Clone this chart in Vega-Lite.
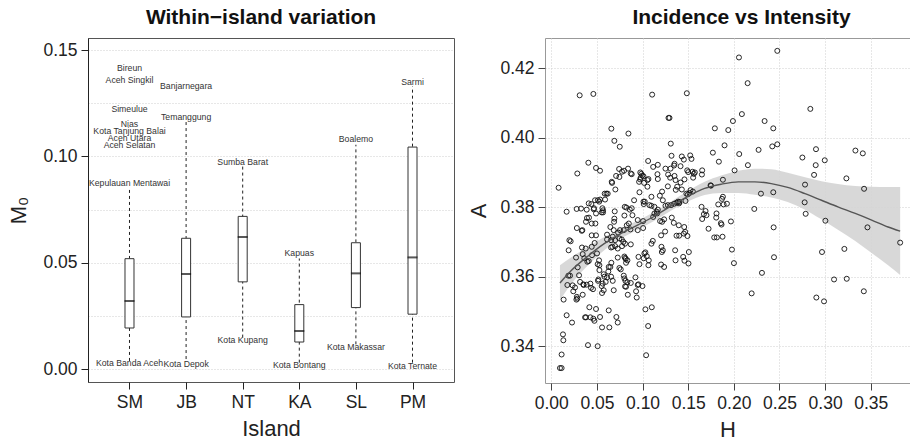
{
  "$schema": "https://vega.github.io/schema/vega-lite/v6.json",
  "padding": {"left": 7, "top": 6, "right": 0, "bottom": 0},
  "spacing": 12,
  "config": {
    "font": "Liberation Sans",
    "title": {"fontSize": 21, "fontWeight": "bold", "color": "#111", "anchor": "middle", "offset": 10},
    "axis": {"labelFontSize": 17.5, "titleFontSize": 22, "titleFontWeight": "normal", "labelColor": "#222", "titleColor": "#222", "tickSize": 7, "tickColor": "#444", "labelPadding": 4, "gridDash": [1, 2], "gridColor": "#cfcfcf"}
  },
  "datasets": {
    "boxes": [
      {"Island": "SM", "lo": 0.0038, "q1": 0.0193, "med": 0.032, "q3": 0.0519, "hi": 0.0849},
      {"Island": "JB", "lo": 0.0047, "q1": 0.0245, "med": 0.0447, "q3": 0.0615, "hi": 0.1162},
      {"Island": "NT", "lo": 0.0148, "q1": 0.041, "med": 0.0621, "q3": 0.0718, "hi": 0.0953},
      {"Island": "KA", "lo": 0.003, "q1": 0.0127, "med": 0.0179, "q3": 0.0303, "hi": 0.052},
      {"Island": "SL", "lo": 0.0116, "q1": 0.0289, "med": 0.045, "q3": 0.0594, "hi": 0.1055},
      {"Island": "PM", "lo": 0.003, "q1": 0.0258, "med": 0.0525, "q3": 0.1044, "hi": 0.133}
    ],
    "labels": [
      {"Island": "SM", "name": "Bireun", "value": 0.1415},
      {"Island": "SM", "name": "Aceh Singkil", "value": 0.1358},
      {"Island": "SM", "name": "Simeulue", "value": 0.1223},
      {"Island": "SM", "name": "Nias", "value": 0.1152},
      {"Island": "SM", "name": "Kota Tanjung Balai", "value": 0.112},
      {"Island": "SM", "name": "Aceh Utara", "value": 0.1086},
      {"Island": "SM", "name": "Aceh Selatan", "value": 0.1052},
      {"Island": "SM", "name": "Kepulauan Mentawai", "value": 0.0877},
      {"Island": "SM", "name": "Kota Banda Aceh", "value": 0.003},
      {"Island": "JB", "name": "Banjarnegara", "value": 0.133},
      {"Island": "JB", "name": "Temanggung", "value": 0.1184},
      {"Island": "JB", "name": "Kota Depok", "value": 0.0025},
      {"Island": "NT", "name": "Sumba Barat", "value": 0.0972},
      {"Island": "NT", "name": "Kota Kupang", "value": 0.0137},
      {"Island": "KA", "name": "Kapuas", "value": 0.0547},
      {"Island": "KA", "name": "Kota Bontang", "value": 0.0019},
      {"Island": "SL", "name": "Boalemo", "value": 0.108},
      {"Island": "SL", "name": "Kota Makassar", "value": 0.0104},
      {"Island": "PM", "name": "Sarmi", "value": 0.1349},
      {"Island": "PM", "name": "Kota Ternate", "value": 0.0014}
    ],
    "loess": [
      {"H": 0.0095, "fit": 0.3582, "lo": 0.3532, "hi": 0.3633},
      {"H": 0.0216, "fit": 0.3617, "lo": 0.3578, "hi": 0.3655},
      {"H": 0.04, "fit": 0.3659, "lo": 0.3632, "hi": 0.3686},
      {"H": 0.058, "fit": 0.3695, "lo": 0.3676, "hi": 0.3714},
      {"H": 0.076, "fit": 0.3724, "lo": 0.3709, "hi": 0.3739},
      {"H": 0.095, "fit": 0.3749, "lo": 0.3736, "hi": 0.3762},
      {"H": 0.113, "fit": 0.3774, "lo": 0.3761, "hi": 0.3787},
      {"H": 0.131, "fit": 0.3803, "lo": 0.379, "hi": 0.3816},
      {"H": 0.15, "fit": 0.3832, "lo": 0.3817, "hi": 0.3847},
      {"H": 0.168, "fit": 0.3854, "lo": 0.3835, "hi": 0.3873},
      {"H": 0.186, "fit": 0.3866, "lo": 0.3841, "hi": 0.3891},
      {"H": 0.205, "fit": 0.3873, "lo": 0.3841, "hi": 0.3905},
      {"H": 0.223, "fit": 0.3873, "lo": 0.3836, "hi": 0.3911},
      {"H": 0.241, "fit": 0.3868, "lo": 0.3828, "hi": 0.3909},
      {"H": 0.259, "fit": 0.3857, "lo": 0.3815, "hi": 0.3899},
      {"H": 0.278, "fit": 0.3839, "lo": 0.3793, "hi": 0.3886},
      {"H": 0.296, "fit": 0.382, "lo": 0.3765, "hi": 0.3875},
      {"H": 0.314, "fit": 0.3801, "lo": 0.3735, "hi": 0.3867},
      {"H": 0.333, "fit": 0.3782, "lo": 0.3703, "hi": 0.3861},
      {"H": 0.351, "fit": 0.3763, "lo": 0.3668, "hi": 0.3859},
      {"H": 0.369, "fit": 0.3743, "lo": 0.3633, "hi": 0.3858},
      {"H": 0.3822, "fit": 0.3731, "lo": 0.3605, "hi": 0.3858}
    ],
    "pts": [
      {"H":0.2476,"A":0.4250},{"H":0.2056,"A":0.4231},{"H":0.2151,"A":0.4157},{"H":0.0311,"A":0.4122},{"H":0.0461,"A":0.4126},
      {"H":0.1105,"A":0.4124},{"H":0.1485,"A":0.4128},{"H":0.2838,"A":0.4083},{"H":0.2088,"A":0.4068},{"H":0.1284,"A":0.4057},
      {"H":0.1295,"A":0.4057},{"H":0.2337,"A":0.4048},{"H":0.1990,"A":0.4048},{"H":0.1792,"A":0.4027},{"H":0.2432,"A":0.4027},
      {"H":0.0658,"A":0.4026},{"H":0.1939,"A":0.4022},{"H":0.0845,"A":0.4012},{"H":0.0691,"A":0.3991},{"H":0.1309,"A":0.3983},
      {"H":0.2476,"A":0.3981},{"H":0.2421,"A":0.3975},{"H":0.0750,"A":0.3974},{"H":0.1898,"A":0.3978},{"H":0.2900,"A":0.3967},
      {"H":0.2271,"A":0.3965},{"H":0.3332,"A":0.3963},{"H":0.3413,"A":0.3955},{"H":0.1770,"A":0.3957},{"H":0.2059,"A":0.3953},
      {"H":0.1317,"A":0.3948},{"H":0.1522,"A":0.3949},{"H":0.1430,"A":0.3946},{"H":0.1452,"A":0.3937},{"H":0.2751,"A":0.3943},
      {"H":0.2996,"A":0.3935},{"H":0.1836,"A":0.3931},{"H":0.0406,"A":0.3928},{"H":0.1350,"A":0.3925},{"H":0.1345,"A":0.3920},
      {"H":0.1536,"A":0.3939},{"H":0.2154,"A":0.3921},{"H":0.2897,"A":0.3921},{"H":0.0490,"A":0.3913},{"H":0.0534,"A":0.3905},
      {"H":0.0743,"A":0.3910},{"H":0.0797,"A":0.3905},{"H":0.0285,"A":0.3897},{"H":0.1061,"A":0.3933},{"H":0.1116,"A":0.3916},
      {"H":0.1251,"A":0.3911},{"H":0.1306,"A":0.3911},{"H":0.1167,"A":0.3922},{"H":0.1416,"A":0.3918},{"H":0.1489,"A":0.3906},
      {"H":0.1500,"A":0.3901},{"H":0.1547,"A":0.3902},{"H":0.1573,"A":0.3900},{"H":0.1562,"A":0.3896},{"H":0.2008,"A":0.3906},
      {"H":0.0881,"A":0.3895},{"H":0.0975,"A":0.3900},{"H":0.0986,"A":0.3896},{"H":0.0997,"A":0.3891},{"H":0.1010,"A":0.3889},
      {"H":0.1064,"A":0.3881},{"H":0.1163,"A":0.3895},{"H":0.1167,"A":0.3881},{"H":0.1280,"A":0.3894},{"H":0.1302,"A":0.3885},
      {"H":0.1350,"A":0.3890},{"H":0.1653,"A":0.3906},{"H":0.1650,"A":0.3894},{"H":0.1554,"A":0.3885},{"H":0.1880,"A":0.3879},
      {"H":0.2879,"A":0.3893},{"H":0.3233,"A":0.3883},{"H":0.0662,"A":0.3873},{"H":0.0710,"A":0.3890},
      {"H":0.0080,"A":0.3856},{"H":0.0585,"A":0.3839},{"H":0.0604,"A":0.3839},{"H":0.0510,"A":0.3820},{"H":0.0525,"A":0.3816},
      {"H":0.0535,"A":0.3822},{"H":0.0410,"A":0.3811},{"H":0.0278,"A":0.3795},{"H":0.0168,"A":0.3787},{"H":0.0326,"A":0.3796},
      {"H":0.0388,"A":0.3793},{"H":0.0567,"A":0.3791},{"H":0.0567,"A":0.3785},{"H":0.0468,"A":0.3797},{"H":0.0391,"A":0.3769},
      {"H":0.0413,"A":0.3770},{"H":0.0380,"A":0.3758},{"H":0.0483,"A":0.3753},{"H":0.0280,"A":0.3740},{"H":0.0340,"A":0.3734},
      {"H":0.0334,"A":0.3732},{"H":0.0695,"A":0.3788},{"H":0.0691,"A":0.3767},{"H":0.0688,"A":0.3758},{"H":0.0647,"A":0.3743},
      {"H":0.0684,"A":0.3734},{"H":0.0732,"A":0.3727},{"H":0.0611,"A":0.3721},{"H":0.0702,"A":0.3851},{"H":0.0666,"A":0.3870},
      {"H":0.0746,"A":0.3887},{"H":0.0805,"A":0.3801},{"H":0.0823,"A":0.3799},{"H":0.0881,"A":0.3797},{"H":0.0860,"A":0.3793},
      {"H":0.0801,"A":0.3776},{"H":0.0849,"A":0.3753},{"H":0.0827,"A":0.3748},{"H":0.0753,"A":0.3734},{"H":0.0794,"A":0.3734},
      {"H":0.0867,"A":0.3736},{"H":0.0947,"A":0.3734},{"H":0.1006,"A":0.3740},{"H":0.1013,"A":0.3809},{"H":0.1010,"A":0.3816},
      {"H":0.1024,"A":0.3816},{"H":0.0973,"A":0.3880},{"H":0.0962,"A":0.3873},{"H":0.1053,"A":0.3878},{"H":0.1097,"A":0.3830},
      {"H":0.1130,"A":0.3801},{"H":0.1156,"A":0.3787},{"H":0.1167,"A":0.3793},{"H":0.1222,"A":0.3820},{"H":0.1236,"A":0.3765},
      {"H":0.1214,"A":0.3758},{"H":0.1251,"A":0.3804},{"H":0.1277,"A":0.3806},{"H":0.1313,"A":0.3806},{"H":0.1346,"A":0.3810},
      {"H":0.1372,"A":0.3813},{"H":0.1390,"A":0.3816},{"H":0.1400,"A":0.3811},{"H":0.1404,"A":0.3815},{"H":0.1320,"A":0.3770},
      {"H":0.1342,"A":0.3755},{"H":0.1397,"A":0.3748},{"H":0.1401,"A":0.3718},{"H":0.1372,"A":0.3718},{"H":0.1456,"A":0.3743},
      {"H":0.1492,"A":0.3717},{"H":0.1470,"A":0.3818},{"H":0.1480,"A":0.3839},{"H":0.1525,"A":0.3849},{"H":0.1430,"A":0.3851},
      {"H":0.1364,"A":0.3850},{"H":0.1551,"A":0.3845},{"H":0.1646,"A":0.3801},{"H":0.1653,"A":0.3766},{"H":0.1672,"A":0.3780},
      {"H":0.1690,"A":0.3789},{"H":0.1700,"A":0.3777},{"H":0.1723,"A":0.3738},{"H":0.1745,"A":0.3863},{"H":0.1750,"A":0.3862},
      {"H":0.1829,"A":0.3808},{"H":0.1810,"A":0.3782},{"H":0.1807,"A":0.3770},{"H":0.1785,"A":0.3713},{"H":0.1814,"A":0.3713},
      {"H":0.1888,"A":0.3808},{"H":0.1870,"A":0.3824},{"H":0.1880,"A":0.3830},{"H":0.1858,"A":0.3754},{"H":0.1865,"A":0.3750},
      {"H":0.1876,"A":0.3715},{"H":0.1968,"A":0.3759},{"H":0.1924,"A":0.3810},{"H":0.1979,"A":0.3678},{"H":0.2001,"A":0.3639},
      {"H":0.2224,"A":0.3795},{"H":0.2297,"A":0.3839},{"H":0.2432,"A":0.3843},{"H":0.2436,"A":0.3742},{"H":0.2440,"A":0.3656},
      {"H":0.2308,"A":0.3611},{"H":0.2195,"A":0.3552},{"H":0.2780,"A":0.3865},{"H":0.2776,"A":0.3814},{"H":0.2787,"A":0.3781},
      {"H":0.3003,"A":0.3761},{"H":0.2966,"A":0.3671},{"H":0.3211,"A":0.3680},{"H":0.3237,"A":0.3594},{"H":0.3098,"A":0.3592},
      {"H":0.2904,"A":0.3540},{"H":0.2988,"A":0.3529},{"H":0.3427,"A":0.3853},{"H":0.3464,"A":0.3742},{"H":0.3822,"A":0.3698},
      {"H":0.3424,"A":0.3558},
      {"H":0.0198,"A":0.3705},{"H":0.0212,"A":0.3702},{"H":0.0190,"A":0.3676},{"H":0.0187,"A":0.3603},{"H":0.0176,"A":0.3576},
      {"H":0.0205,"A":0.3603},{"H":0.0234,"A":0.3575},{"H":0.0260,"A":0.3569},{"H":0.0241,"A":0.3558},{"H":0.0271,"A":0.3655},
      {"H":0.0289,"A":0.3627},{"H":0.0304,"A":0.3604},{"H":0.0315,"A":0.3585},{"H":0.0280,"A":0.3542},{"H":0.0275,"A":0.3534},
      {"H":0.0285,"A":0.3537},{"H":0.0344,"A":0.3665},{"H":0.0336,"A":0.3684},{"H":0.0362,"A":0.3653},{"H":0.0377,"A":0.3681},
      {"H":0.0395,"A":0.3643},{"H":0.0410,"A":0.3645},{"H":0.0351,"A":0.3578},{"H":0.0355,"A":0.3576},{"H":0.0344,"A":0.3548},
      {"H":0.0388,"A":0.3577},{"H":0.0428,"A":0.3580},{"H":0.0435,"A":0.3568},{"H":0.0457,"A":0.3564},{"H":0.0446,"A":0.3662},
      {"H":0.0475,"A":0.3697},{"H":0.0490,"A":0.3719},{"H":0.0501,"A":0.3667},{"H":0.0508,"A":0.3636},{"H":0.0523,"A":0.3647},
      {"H":0.0527,"A":0.3633},{"H":0.0516,"A":0.3592},{"H":0.0527,"A":0.3619},{"H":0.0512,"A":0.3588},{"H":0.0443,"A":0.3719},
      {"H":0.0443,"A":0.3686},{"H":0.0552,"A":0.3573},{"H":0.0563,"A":0.3580},{"H":0.0574,"A":0.3607},{"H":0.0582,"A":0.3600},
      {"H":0.0596,"A":0.3585},{"H":0.0611,"A":0.3598},{"H":0.0625,"A":0.3615},{"H":0.0629,"A":0.3628},{"H":0.0647,"A":0.3628},
      {"H":0.0658,"A":0.3640},{"H":0.0655,"A":0.3600},{"H":0.0673,"A":0.3588},{"H":0.0684,"A":0.3561},{"H":0.0574,"A":0.3561},
      {"H":0.0556,"A":0.3553},{"H":0.0673,"A":0.3715},{"H":0.0655,"A":0.3705},{"H":0.0699,"A":0.3705},{"H":0.0699,"A":0.3688},
      {"H":0.0655,"A":0.3684},{"H":0.0746,"A":0.3710},{"H":0.0772,"A":0.3707},{"H":0.0728,"A":0.3681},{"H":0.0728,"A":0.3655},
      {"H":0.0746,"A":0.3625},{"H":0.0761,"A":0.3621},{"H":0.0775,"A":0.3688},{"H":0.0790,"A":0.3700},{"H":0.0808,"A":0.3695},
      {"H":0.0801,"A":0.3658},{"H":0.0808,"A":0.3654},{"H":0.0816,"A":0.3651},{"H":0.0819,"A":0.3640},{"H":0.0834,"A":0.3647},
      {"H":0.0794,"A":0.3603},{"H":0.0801,"A":0.3595},{"H":0.0812,"A":0.3588},{"H":0.0808,"A":0.3572},{"H":0.0819,"A":0.3571},
      {"H":0.0838,"A":0.3548},{"H":0.0834,"A":0.3584},{"H":0.0871,"A":0.3693},{"H":0.0871,"A":0.3582},{"H":0.0922,"A":0.3598},
      {"H":0.0929,"A":0.3558},{"H":0.0936,"A":0.3540},{"H":0.0955,"A":0.3578},{"H":0.0947,"A":0.3576},{"H":0.0955,"A":0.3657},
      {"H":0.0966,"A":0.3636},{"H":0.0999,"A":0.3573},{"H":0.1013,"A":0.3653},{"H":0.1020,"A":0.3667},{"H":0.1031,"A":0.3670},
      {"H":0.1046,"A":0.3659},{"H":0.1068,"A":0.3647},{"H":0.1064,"A":0.3633},{"H":0.1097,"A":0.3695},{"H":0.1112,"A":0.3703},
      {"H":0.1207,"A":0.3686},{"H":0.1211,"A":0.3671},{"H":0.1222,"A":0.3676},{"H":0.1236,"A":0.3628},{"H":0.1203,"A":0.3635},
      {"H":0.1247,"A":0.3730},{"H":0.1159,"A":0.3782},{"H":0.1192,"A":0.3760},{"H":0.1203,"A":0.3719},{"H":0.1130,"A":0.3782},
      {"H":0.1031,"A":0.3506},{"H":0.1101,"A":0.3512},{"H":0.1061,"A":0.3458},{"H":0.1039,"A":0.3374},{"H":0.0402,"A":0.3403},
      {"H":0.0508,"A":0.3400},{"H":0.0417,"A":0.3512},{"H":0.0490,"A":0.3507},{"H":0.0428,"A":0.3483},{"H":0.0380,"A":0.3483},
      {"H":0.0370,"A":0.3483},{"H":0.0461,"A":0.3479},{"H":0.0472,"A":0.3473},{"H":0.0534,"A":0.3484},{"H":0.0556,"A":0.3454},
      {"H":0.0636,"A":0.3454},{"H":0.0629,"A":0.3503},{"H":0.0713,"A":0.3484},{"H":0.0728,"A":0.3468},{"H":0.0227,"A":0.3468},
      {"H":0.0168,"A":0.3489},{"H":0.0128,"A":0.3434},{"H":0.0132,"A":0.3417},{"H":0.0113,"A":0.3376},{"H":0.0095,"A":0.3337},
      {"H":0.0113,"A":0.3337},{"H":0.0135,"A":0.3534},
      {"H":0.0479,"A":0.3820},{"H":0.0439,"A":0.3809},{"H":0.0465,"A":0.3794},{"H":0.0490,"A":0.3782},{"H":0.0443,"A":0.3753},
      {"H":0.0552,"A":0.3785},{"H":0.0560,"A":0.3797},{"H":0.0589,"A":0.3822},{"H":0.0618,"A":0.3839},{"H":0.0669,"A":0.3686},
      {"H":0.0611,"A":0.3707},{"H":0.0775,"A":0.3902},{"H":0.0841,"A":0.3911},{"H":0.0871,"A":0.3897},{"H":0.0980,"A":0.3885},
      {"H":0.1017,"A":0.3870},{"H":0.1053,"A":0.3859},{"H":0.0907,"A":0.3820},{"H":0.0966,"A":0.3843},{"H":0.1075,"A":0.3806},
      {"H":0.0889,"A":0.3777},{"H":0.0947,"A":0.3763},{"H":0.1006,"A":0.3760},{"H":0.1116,"A":0.3772},{"H":0.1097,"A":0.3804},
      {"H":0.1189,"A":0.3833},{"H":0.1214,"A":0.3845},{"H":0.1277,"A":0.3860},{"H":0.1361,"A":0.3878},{"H":0.1379,"A":0.3859},
      {"H":0.1416,"A":0.3871},{"H":0.1459,"A":0.3880},{"H":0.1514,"A":0.3841},{"H":0.1496,"A":0.3837},{"H":0.1467,"A":0.3729},
      {"H":0.1452,"A":0.3724},{"H":0.1445,"A":0.3657},{"H":0.1459,"A":0.3646},{"H":0.1503,"A":0.3638},{"H":0.1507,"A":0.3671},
      {"H":0.1361,"A":0.3647},{"H":0.1357,"A":0.3676}
    ]
  },
  "hconcat": [
    {
      "width": 366,
      "height": 344,
      "view": {"stroke": "#555", "strokeWidth": 1},
      "title": {"text": "Within−island variation", "dx": -10},
      "encoding": {
        "x": {"field": "Island", "type": "nominal", "sort": ["SM", "JB", "NT", "KA", "SL", "PM"],
              "scale": {"type": "point", "padding": 0.733},
              "axis": {"title": "Island", "labelAngle": 0, "domain": false, "grid": false, "tickColor": "#222", "titlePadding": 8}}
      },
      "layer": [
        {
          "data": {"name": "boxes"},
          "mark": {"type": "rule", "strokeDash": [3, 3], "color": "#222", "strokeWidth": 1},
          "encoding": {
            "y": {"field": "lo", "type": "quantitative", "title": "M₀",
                  "scale": {"domain": [-0.0061, 0.1557], "nice": false, "zero": false},
                  "axis": {"values": [0, 0.025, 0.05, 0.075, 0.1, 0.125, 0.15],
                           "labelExpr": "abs(round(datum.value*20) - datum.value*20) < 0.001 ? format(datum.value, '.2f') : ''",
                           "tickOpacity": {"condition": {"test": "abs(round(datum.value*20) - datum.value*20) > 0.001", "value": 0}, "value": 1},
                           "grid": true, "domain": true, "domainColor": "#222", "tickColor": "#222", "titlePadding": 12}},
            "y2": {"field": "hi"}
          }
        },
        {
          "data": {"name": "boxes"},
          "mark": {"type": "bar", "size": 9, "fill": "white", "stroke": "#333", "strokeWidth": 1},
          "encoding": {
            "y": {"field": "q1", "type": "quantitative", "title": "M₀"},
            "y2": {"field": "q3"}
          }
        },
        {
          "data": {"name": "boxes"},
          "mark": {"type": "tick", "size": 10, "thickness": 2, "color": "#111"},
          "encoding": {
            "y": {"field": "med", "type": "quantitative", "title": "M₀"}
          }
        },
        {
          "data": {"name": "labels"},
          "mark": {"type": "text", "fontSize": 8.7, "color": "#333", "baseline": "middle", "align": "center"},
          "encoding": {
            "y": {"field": "value", "type": "quantitative", "title": "M₀"},
            "text": {"field": "name"}
          }
        }
      ]
    },
    {
      "width": 365,
      "height": 345,
      "view": {"stroke": "#999", "strokeWidth": 1},
      "title": {"text": "Incidence vs Intensity", "dx": 14},
      "encoding": {
        "x": {"field": "H", "type": "quantitative", "title": "H",
              "scale": {"domain": [-0.0069, 0.393], "nice": false, "zero": false},
              "axis": {"values": [0, 0.05, 0.1, 0.15, 0.2, 0.25, 0.3, 0.35], "format": ".2f", "grid": true, "domain": false, "titlePadding": 8}}
      },
      "layer": [
        {
          "data": {"name": "loess"},
          "mark": {"type": "area", "color": "#d4d4d4", "opacity": 0.9, "interpolate": "monotone"},
          "encoding": {
            "y": {"field": "lo", "type": "quantitative", "title": "A",
                  "scale": {"domain": [0.3294, 0.4287], "nice": false, "zero": false},
                  "axis": {"values": [0.34, 0.36, 0.38, 0.4, 0.42], "format": ".2f", "grid": true, "domain": false, "titlePadding": 9}},
            "y2": {"field": "hi"}
          }
        },
        {
          "data": {"name": "pts"},
          "mark": {"type": "point", "shape": "circle", "filled": false, "size": 25, "stroke": "#111", "strokeWidth": 0.9, "opacity": 1},
          "encoding": {
            "y": {"field": "A", "type": "quantitative", "title": "A"}
          }
        },
        {
          "data": {"name": "loess"},
          "mark": {"type": "line", "color": "#555", "strokeWidth": 1.4, "interpolate": "monotone"},
          "encoding": {
            "y": {"field": "fit", "type": "quantitative", "title": "A"}
          }
        }
      ]
    }
  ]
}
